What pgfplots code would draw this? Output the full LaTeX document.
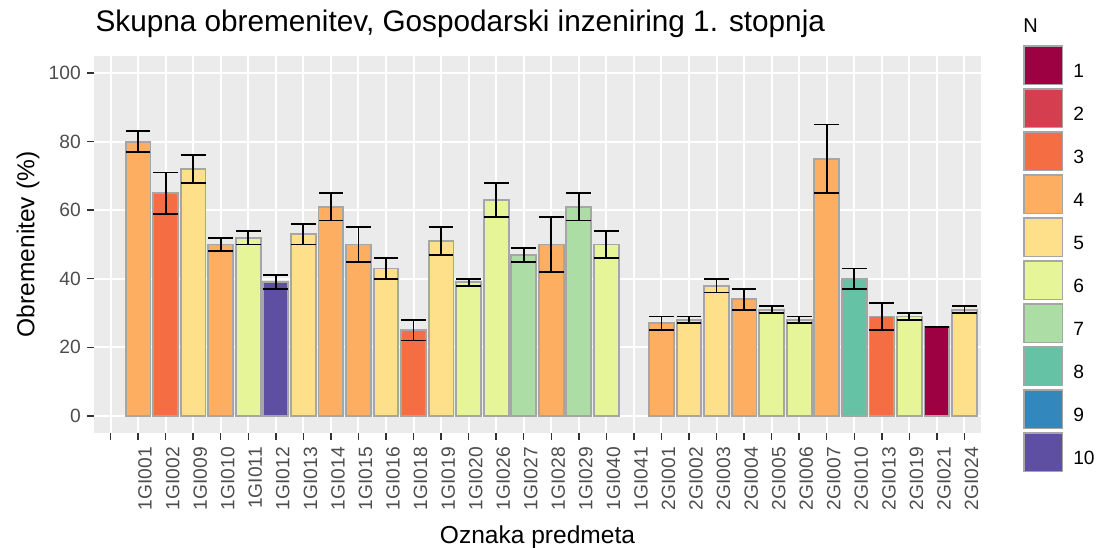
\documentclass[border=0pt]{standalone}
\usepackage{fontspec}
\setmainfont{Liberation Sans}
\usepackage{pgfplots}
\pgfplotsset{compat=1.18}
\definecolor{c1}{HTML}{9E0142}
\definecolor{c2}{HTML}{D53E4F}
\definecolor{c3}{HTML}{F46D43}
\definecolor{c4}{HTML}{FDAE61}
\definecolor{c5}{HTML}{FEE08B}
\definecolor{c6}{HTML}{E6F598}
\definecolor{c7}{HTML}{ABDDA4}
\definecolor{c8}{HTML}{66C2A5}
\definecolor{c9}{HTML}{3288BD}
\definecolor{c10}{HTML}{5E4FA2}
\definecolor{panel}{HTML}{EBEBEB}
\definecolor{tickc}{HTML}{333333}
\definecolor{labc}{HTML}{4D4D4D}
\definecolor{outl}{HTML}{A6A6A6}
\newcommand\tickfont{\fontsize{14.4}{16}\selectfont}
\newcommand\legtitfont{\fontsize{15}{17}\selectfont}
\newcommand\labfont{\fontsize{18.4}{21}\selectfont}
\newcommand\titfont{\fontsize{22.3}{25}\selectfont}
\begin{document}
\begin{tikzpicture}
\useasboundingbox (-70.5pt,-86.25pt) rectangle (753.75pt,324.75pt);
\begin{axis}[
  at={(0pt,0pt)}, anchor=south west,
  scale only axis, width=665.25pt, height=282.75pt,
  xmin=-0.6, xmax=31.6, ymin=-5, ymax=105,
  axis background/.style={fill=panel},
  axis line style={draw=none},
  grid=major, major grid style={white, line width=1.5pt},
  xtick={0,...,31},
  xticklabels={{},1GI001,1GI002,1GI009,1GI010,1GI011,1GI012,1GI013,1GI014,1GI015,1GI016,1GI018,1GI019,1GI020,1GI026,1GI027,1GI028,1GI029,1GI040,1GI041,2GI001,2GI002,2GI003,2GI004,2GI005,2GI006,2GI007,2GI010,2GI013,2GI019,2GI021,2GI024},
  ytick={0,20,40,60,80,100},
  tick align=outside, tick pos=left,
  major tick length=5pt,
  tick style={tickc, line width=1.1pt},
  /pgf/number format/assume math mode=true,
  xticklabel style={rotate=90, anchor=north east, inner sep=0pt, font=\tickfont, text=labc},
  yticklabel style={anchor=east, inner sep=0pt, font=\tickfont, text=labc},
  xticklabel shift=5.5pt,
  yticklabel shift=4.75pt,
  xlabel={Oznaka predmeta},
  xlabel style={at={(axis description cs:0.5,-0.2944)}, anchor=base, font=\labfont, inner sep=0pt},
  ylabel={Obremenitev (\%)},
  ylabel style={at={(axis description cs:-0.0671,0.5)}, anchor=base, font=\labfont, inner sep=0pt},
  title={Skupna obremenitev, Gospodarski inzeniring 1. stopnja},
  title style={at={(axis description cs:0.0015,1.0442)}, anchor=base west, font=\titfont, inner sep=0pt},
  ybar, bar width=0.9, bar shift=0pt,
  every axis plot/.append style={draw=outl, line width=1.4pt},
  error bars/y dir=both, error bars/y explicit,
  error bars/error mark=|,
  error bars/error bar style={line width=1.4pt, black},
  error bars/error mark options={line width=1.4pt, black, mark size=9.28pt},
  legend image code/.code={\draw[#1, draw=outl, line width=1.2pt] (0pt,-9.35pt) rectangle (29pt,19.65pt);},
  legend style={at={(1.04735,1.0292)}, anchor=north west, draw=none, fill=none,
    inner sep=0pt, outer sep=0pt, row sep=2.05pt, column sep=7.5pt,
    nodes={inner sep=0pt, font=\tickfont}},
  legend cell align=left,
  clip=false,
]
\addplot[fill=c1, forget plot] coordinates {(30,26) +- (0,0)};
\addplot[fill=c3, forget plot] coordinates {(2,65) +- (0,6) (11,25) +- (0,3) (28,29) +- (0,4)};
\addplot[fill=c4, forget plot] coordinates {(1,80) +- (0,3) (4,50) +- (0,2) (8,61) +- (0,4) (9,50) +- (0,5) (16,50) +- (0,8) (20,27) +- (0,2) (23,34) +- (0,3) (26,75) +- (0,10)};
\addplot[fill=c5, forget plot] coordinates {(3,72) +- (0,4) (7,53) +- (0,3) (10,43) +- (0,3) (12,51) +- (0,4) (21,28) +- (0,1) (22,38) +- (0,2) (31,31) +- (0,1)};
\addplot[fill=c6, forget plot] coordinates {(5,52) +- (0,2) (13,39) +- (0,1) (14,63) +- (0,5) (18,50) +- (0,4) (24,31) +- (0,1) (25,28) +- (0,1) (29,29) +- (0,1)};
\addplot[fill=c7, forget plot] coordinates {(15,47) +- (0,2) (17,61) +- (0,4)};
\addplot[fill=c8, forget plot] coordinates {(27,40) +- (0,3)};
\addplot[fill=c10, forget plot] coordinates {(6,39) +- (0,2)};
\addlegendimage{fill=c1}\addlegendentry{1}
\addlegendimage{fill=c2}\addlegendentry{2}
\addlegendimage{fill=c3}\addlegendentry{3}
\addlegendimage{fill=c4}\addlegendentry{4}
\addlegendimage{fill=c5}\addlegendentry{5}
\addlegendimage{fill=c6}\addlegendentry{6}
\addlegendimage{fill=c7}\addlegendentry{7}
\addlegendimage{fill=c8}\addlegendentry{8}
\addlegendimage{fill=c9}\addlegendentry{9}
\addlegendimage{fill=c10}\addlegendentry{10}
\node[anchor=base west, inner sep=0pt, font=\legtitfont] at (axis description cs:1.04735,1.0619) {N};
\end{axis}
\end{tikzpicture}
\end{document}
